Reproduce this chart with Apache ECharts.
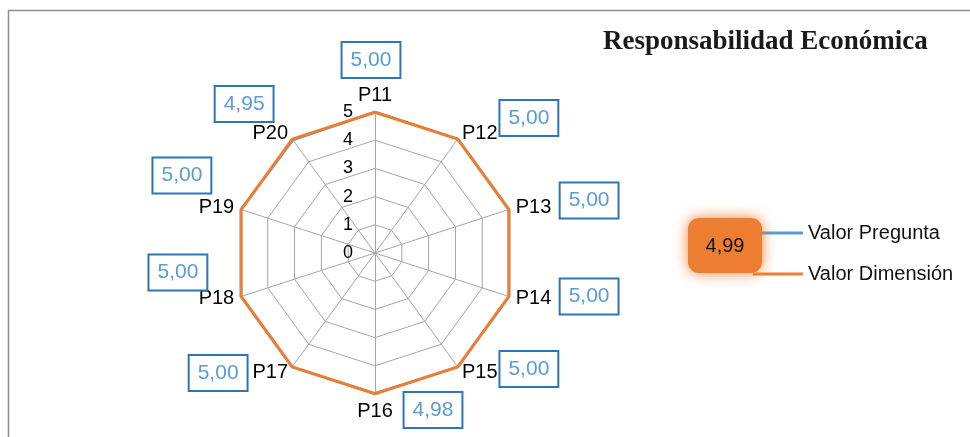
<!DOCTYPE html>
<html>
<head>
<meta charset="utf-8">
<script src="https://cdn.jsdelivr.net/npm/echarts@6/dist/echarts.min.js"></script>
<style>
  html, body { margin: 0; padding: 0; background: #ffffff; }
  #chart { width: 970px; height: 437px; }
</style>
</head>
<body>
<div id="chart"></div>
<script>
// Question labels, clockwise from the top
const categories = ['P11', 'P12', 'P13', 'P14', 'P15', 'P16', 'P17', 'P18', 'P19', 'P20'];
// Score per question
const questionValues = [5.00, 5.00, 5.00, 5.00, 5.00, 4.98, 5.00, 5.00, 5.00, 4.95];
// Overall score of the dimension
const dimensionValue = 4.99;
// Radial scale
const axisMin = 0;
const axisMax = 5;
const tickLabels = ['0', '1', '2', '3', '4', '5'];
const seriesNames = ['Valor Pregunta', 'Valor Dimensión'];
const chartTitle = 'Responsabilidad Económica';

// Offset of each value box from its axis end (px)
const boxOffsets = [
  [-4, -52], [71, -21], [80, -9], [80, 0], [71, 2],
  [58, 16], [-74, 6], [-63, -24], [-59, -34], [-48, -35]
];

const BLUE = '#5B9BD5';
const BLUE_DARK = '#2E75B6';
const ORANGE = '#ED7D31';
const GRID = '#A6A6A6';
const SANS = '"Liberation Sans", Arial, sans-serif';
const SERIF = '"Liberation Serif", "Times New Roman", serif';

const fmt = v => v.toFixed(2).replace('.', ',');

// ECharts places indicators counter-clockwise; reorder so the questions run clockwise
const n = categories.length;
const order = categories.map((_, j) => (n - j) % n);

const indicators = order.map((k, j) => {
  const ind = { name: categories[k], min: axisMin, max: axisMax };
  if (j === 0) ind.axisLabel = { show: true };
  return ind;
});

const chart = echarts.init(document.getElementById('chart'), null, { renderer: 'canvas' });

chart.setOption({
  backgroundColor: '#ffffff',
  animation: false,
  title: {
    text: chartTitle,
    left: 603,
    top: 29,
    padding: 0,
    textStyle: { fontFamily: SERIF, fontSize: 27, fontWeight: 'bold', color: '#1a1a1a' }
  },
  legend: {
    orient: 'vertical',
    left: 753,
    top: 223,
    padding: 0,
    icon: 'rect',
    itemWidth: 50,
    itemHeight: 3,
    itemGap: 21,
    data: seriesNames,
    textStyle: { fontFamily: SANS, fontSize: 20, color: '#111' }
  },
  radar: {
    center: [375, 253],
    radius: 141,
    startAngle: 90,
    shape: 'polygon',
    splitNumber: tickLabels.length - 1,
    nameGap: 7,
    axisName: { color: '#000', fontFamily: SANS, fontSize: 20 },
    axisLabel: {
      show: false, color: '#000', fontFamily: SANS, fontSize: 18, margin: 22,
      formatter: v => tickLabels[Math.round(v)] ?? ''
    },
    axisTick: { show: false },
    axisLine: { lineStyle: { color: GRID, width: 1 } },
    splitLine: { lineStyle: { color: GRID, width: 1 } },
    splitArea: { show: false },
    indicator: indicators
  },
  series: [
    {
      type: 'radar',
      symbol: 'none',
      z: 2,
      lineStyle: { color: BLUE, width: 2.5 },
      itemStyle: { color: BLUE },
      data: [{ name: seriesNames[0], value: order.map(k => questionValues[k]) }]
    },
    {
      type: 'radar',
      symbol: 'none',
      z: 3,
      lineStyle: { color: ORANGE, width: 3 },
      itemStyle: { color: ORANGE },
      data: [{ name: seriesNames[1], value: order.map(() => dimensionValue) }]
    }
  ]
});

// Value boxes placed next to each axis end, using the radar's own scale
const radarCS = chart.getModel().getComponent('radar', 0).coordinateSystem;
const graphics = [];

categories.forEach((cat, k) => {
  const j = order.indexOf(k);
  const p = radarCS.dataToPoint(axisMax, j);
  graphics.push({
    type: 'text',
    x: p[0] + boxOffsets[k][0],
    y: p[1] + boxOffsets[k][1],
    z: 10,
    style: {
      text: fmt(questionValues[k]),
      fill: BLUE,
      font: '21px ' + SANS,
      align: 'center',
      verticalAlign: 'middle',
      backgroundColor: '#ffffff',
      borderColor: BLUE_DARK,
      borderWidth: 2,
      padding: [7, 8, 6, 8]
    }
  });
});

// Dimension score badge beside the legend
graphics.push({
  type: 'rect',
  shape: { x: 688, y: 218, width: 74, height: 55, r: 11 },
  z: 5,
  style: { fill: ORANGE, shadowBlur: 14, shadowColor: 'rgba(237,125,49,0.95)' }
});
graphics.push({
  type: 'text',
  x: 725, y: 246, z: 6,
  style: {
    text: fmt(dimensionValue), fill: '#111', font: '20px ' + SANS,
    align: 'center', verticalAlign: 'middle'
  }
});

// Frame edges along the top and left
graphics.push({
  type: 'polyline',
  z: 0,
  shape: { points: [[8.5, 437], [8.5, 10.5], [970, 10.5]] },
  style: { stroke: '#8E8E8E', lineWidth: 1.5, fill: null }
});

chart.setOption({ graphic: graphics });
</script>
</body>
</html>
